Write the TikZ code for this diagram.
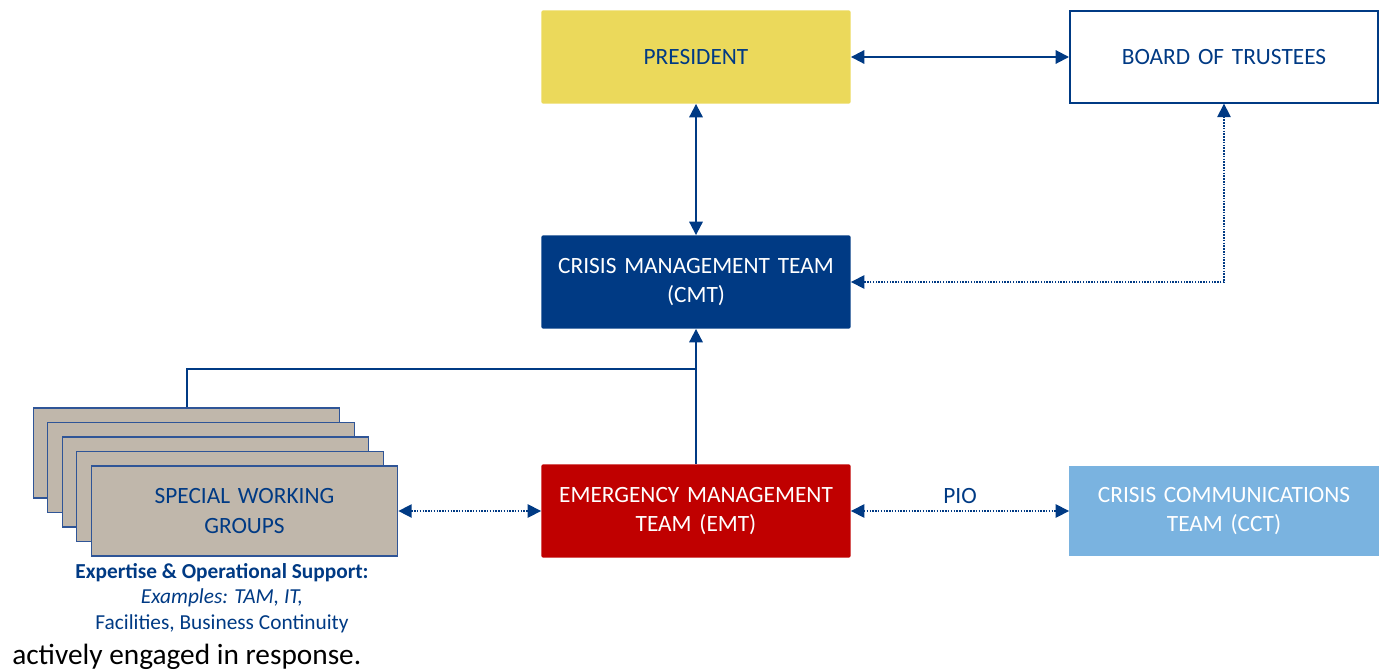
\documentclass[tikz,border=0pt]{standalone}
\usepackage{fontspec}
\setmainfont{Carlito}
\usetikzlibrary{arrows.meta,positioning}
\definecolor{navy}{HTML}{003A84}
\definecolor{presyellow}{HTML}{EBD95B}
\definecolor{emtred}{HTML}{C00000}
\definecolor{cctblue}{HTML}{7AB3E0}
\definecolor{swgtan}{HTML}{C0B7AB}
\definecolor{swgedge}{HTML}{2F5597}
\begin{document}
\begin{tikzpicture}[x=0.75pt,y=-0.75pt]
      \tikzstyle{unit} = [rectangle, rounded corners=1.5pt, minimum width=232pt, minimum height=70pt, text centered, text width=228pt, inner sep=0pt, font=\fontsize{17.5}{22}\selectfont]
      \tikzstyle{swg} = [rectangle, minimum width=230pt, minimum height=67.5pt, text centered, text width=225pt, inner sep=0pt, fill=swgtan, draw=swgedge, line width=0.8pt, text=navy, font=\fontsize{17.5}{22}\selectfont]
      \tikzstyle{arrow} = [draw=navy, line width=1.5pt, <->, >={Triangle[length=10pt,width=10pt]}]
      \tikzstyle{dotarrow} = [draw=navy, line width=1.1pt, densely dotted, <->, >={Triangle[length=10pt,width=10pt]}]
      \tikzstyle{note} = [text=navy, font=\fontsize{16}{19}\selectfont, inner sep=0pt]
      \useasboundingbox (0,0) rectangle (1384,671);

      \node (president) [unit, fill=presyellow, text=navy] at (696,57) {PRESIDENT};
      \node (board) [unit, draw=navy, line width=1.5pt, rounded corners=0pt, fill=white, text=navy, minimum width=231pt, minimum height=68.5pt] at (1224,57) {BOARD OF TRUSTEES};
      \node (cmt) [unit, fill=navy, text=white] at (696,282) {CRISIS MANAGEMENT TEAM\\(CMT)};
      \node (emt) [unit, fill=emtred, text=white] at (696,511) {EMERGENCY MANAGEMENT\\TEAM (EMT)};
      \node (cct) [unit, fill=cctblue, text=white, rounded corners=0pt, minimum height=68pt] at (1224,511) {CRISIS COMMUNICATIONS\\TEAM (CCT)};

      % stacked working groups, back to front
      \foreach \i in {0,...,3}
        \node (swg\i) [swg] at (186.5+14.5*\i,453+14.5*\i) {};
      \node (swg4) [swg] at (244.5,511) {SPECIAL WORKING\\GROUPS};

      \node (support) [note, font=\fontsize{16}{19}\selectfont\bfseries] at (222,573) {Expertise \& Operational Support:};
      \node (examples) [note, font=\fontsize{16}{19}\selectfont\itshape] at (222,598) {Examples: TAM, IT,};
      \node (areas) [note] at (222,624) {Facilities, Business Continuity};
      \node (caption) [inner sep=0pt, anchor=west, font=\fontsize{22}{26}\selectfont] at (12,657) {actively engaged in response.};

      \coordinate (join) at (696,369);

      \draw [arrow] (president) -- (board);
      \draw [arrow] (president) -- (cmt);
      \draw [dotarrow] (board.south) |- (cmt.east);
      \draw [arrow, <-] (cmt) -- (emt);
      \draw [draw=navy, line width=1.5pt] (swg0.north) |- (join);
      \draw [dotarrow] (swg4) -- (emt);
      \draw [dotarrow] (emt) -- node [above=2pt, text=navy, font=\fontsize{17.5}{22}\selectfont] {PIO} (cct);
\end{tikzpicture}
\end{document}
